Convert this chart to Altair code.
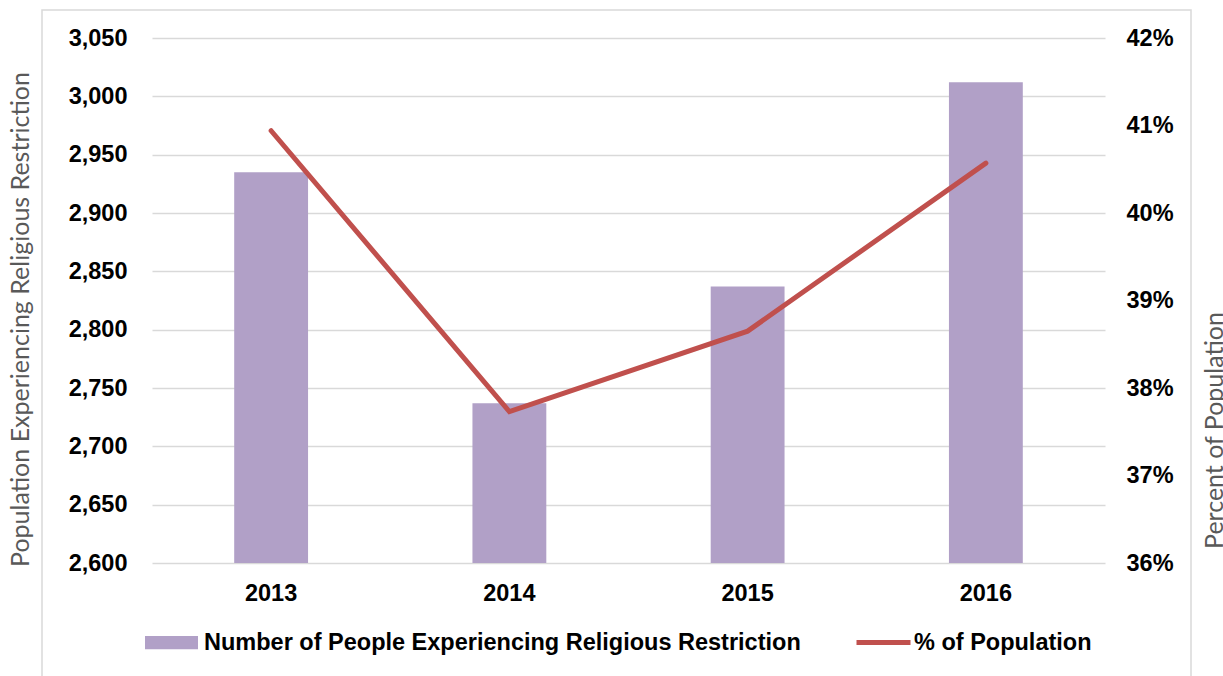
import altair as alt
import pandas as pd

years = ["2013", "2014", "2015", "2016"]
people = [2935, 2737, 2837, 3012]
pct = [0.4094, 0.3773, 0.3865, 0.4057]
bar_label = "Number of People Experiencing Religious Restriction"
line_label = "% of Population"
left_ticks = [2600, 2650, 2700, 2750, 2800, 2850, 2900, 2950, 3000, 3050]
right_ticks = [0.36, 0.37, 0.38, 0.39, 0.40, 0.41, 0.42]

PURPLE = "#B1A0C7"
RED = "#C0504D"
GRID = "#D9D9D9"
LBL_FONT = "Liberation Sans"
TTL_FONT = "Lato"
LBL_SIZE = 23.5
TTL_SIZE = 25

df = pd.DataFrame({"year": years, "people": people, "pct": pct,
                   "s1": bar_label, "s2": line_label})

x_enc = alt.X("year:N", sort=years,
              scale=alt.Scale(paddingInner=0.69, paddingOuter=0.345),
              axis=alt.Axis(title=None, labelAngle=0, labelFont=LBL_FONT,
                            labelFontSize=LBL_SIZE, labelFontWeight="bold",
                            labelColor="#000000", labelPadding=18,
                            ticks=False, tickSize=0, domain=False, grid=False))

border = alt.Chart(alt.Data(values=[{}])).mark_rect(
    fill="transparent", stroke=GRID, strokeWidth=1.5
).encode(x=alt.value(-110), x2=alt.value(1039), y=alt.value(-28), y2=alt.value(720))

bars = alt.Chart(df).mark_bar().encode(
    x=x_enc,
    y=alt.Y("people:Q",
            scale=alt.Scale(domain=[2600, 3050], nice=False, zero=False),
            axis=alt.Axis(values=left_ticks, format=",.0f",
                          title="Population Experiencing Religious Restriction",
                          titleFont=TTL_FONT, titleFontSize=TTL_SIZE, titleFontWeight="normal",
                          titleColor="#595959", titleAngle=270, titleX=-124, titleY=281,
                          titleAlign="center", titleBaseline="alphabetic",
                          labelFont=LBL_FONT, labelFontSize=LBL_SIZE, labelFontWeight="bold",
                          labelColor="#000000", labelPadding=25,
                          grid=True, gridColor=GRID, gridWidth=1.6,
                          domain=False, ticks=False, tickSize=0)),
    y2=alt.datum(2600),
    fill=alt.Fill("s1:N", scale=alt.Scale(domain=[bar_label], range=[PURPLE]),
                  legend=alt.Legend(title=None, orient="none", legendX=-7, legendY=578,
                                    symbolType="M-1,-0.25H1V0.25H-1Z", symbolSize=2809,
                                    symbolStrokeWidth=0, labelFont=LBL_FONT,
                                    labelFontSize=LBL_SIZE, labelFontWeight="bold",
                                    labelColor="#000000", labelOffset=6, labelLimit=1000,
                                    padding=0)),
)

line = alt.Chart(df).mark_line(strokeWidth=5, strokeCap="round").encode(
    x=x_enc,
    y=alt.Y("pct:Q",
            scale=alt.Scale(domain=[0.36, 0.42], nice=False, zero=False),
            axis=alt.Axis(orient="right", values=right_ticks, format=".0%",
                          title="Percent of Population",
                          titleFont=TTL_FONT, titleFontSize=TTL_SIZE, titleFontWeight="normal",
                          titleColor="#595959", titleAngle=270, titleX=117, titleY=392,
                          titleAlign="center", titleBaseline="alphabetic",
                          labelFont=LBL_FONT, labelFontSize=LBL_SIZE, labelFontWeight="bold",
                          labelColor="#000000", labelPadding=21,
                          grid=False, domain=False, ticks=False, tickSize=0)),
    stroke=alt.Stroke("s2:N", scale=alt.Scale(domain=[line_label], range=[RED]),
                      legend=alt.Legend(title=None, orient="none", legendX=702, legendY=575,
                                        symbolType="stroke", symbolSize=2916,
                                        symbolStrokeWidth=5, labelFont=LBL_FONT,
                                        labelFontSize=LBL_SIZE, labelFontWeight="bold",
                                        labelColor="#000000", labelOffset=1, labelLimit=1000,
                                        padding=0)),
)

chart = alt.layer(border, bars, line).resolve_scale(
    y="independent", fill="independent", stroke="independent"
).properties(
    width=953, height=525,
    padding={"left": 152, "top": 38, "right": 118, "bottom": 113},
    autosize=alt.AutoSizeParams(type="none"),
    background="#FFFFFF",
).configure_view(strokeWidth=0)

chart.save("out.html", embed_options={"renderer": "svg", "actions": False})
